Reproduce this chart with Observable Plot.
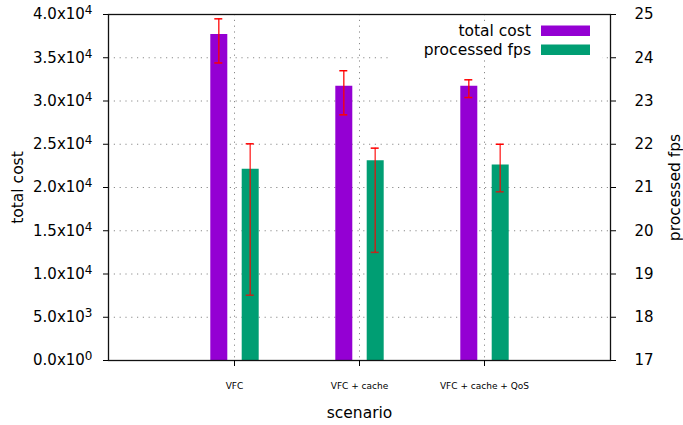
<!DOCTYPE html>
<html>
<head>
<meta charset="utf-8">
<script src="https://cdn.jsdelivr.net/npm/d3@7"></script>
<script src="https://cdn.jsdelivr.net/npm/@observablehq/plot@0.6"></script>
<style>
  html, body { margin: 0; padding: 0; background: #fff; }
  #chart { width: 683px; height: 425px; overflow: hidden; }
</style>
</head>
<body>
<div id="chart"></div>
<script>
// Scenarios compared on the x axis
const scenarios = ["VFC", "VFC + cache", "VFC + cache + QoS"];

// Total cost (left axis) with error-bar bounds
const cost     = [37700, 31700, 31700];
const costLow  = [34400, 28400, 30400];
const costHigh = [39500, 33500, 32450];

// Processed fps (right axis) with error-bar bounds
const fps      = [21.42, 21.62, 21.52];
const fpsLow   = [18.51, 19.50, 20.90];
const fpsHigh  = [22.01, 21.91, 22.00];

// Axis ranges and ticks
const costTicks = [0, 5000, 10000, 15000, 20000, 25000, 30000, 35000, 40000];
const fpsMin = 17, fpsMax = 25;
const costMax = 40000;

const seriesNames = ["total cost", "processed fps"];
const seriesColors = ["#9400D3", "#009E73"];
const errColor = "#ff0000";

// The fps series shares the plot with cost: map fps onto the cost scale
const fpsToCost = f => (f - fpsMin) * costMax / (fpsMax - fpsMin);
const costToFps = c => fpsMin + c * (fpsMax - fpsMin) / costMax;

const rows = scenarios.map((s, i) => ({
  scenario: s,
  cost: cost[i], costLow: costLow[i], costHigh: costHigh[i],
  fps: fps[i], fpsLow: fpsLow[i], fpsHigh: fpsHigh[i]
}));

// Gnuplot-like scientific labels, e.g. 3.5x10^4
function sci(v) {
  if (v === 0) return "0.0x10^0";
  const e = Math.floor(Math.log10(v));
  return (v / Math.pow(10, e)).toFixed(1) + "x10^" + e;
}

const barW = 17, off = 15.7, capHalf = 4;
const grid = { stroke: "#8a8a8a", strokeOpacity: 1, strokeDasharray: "1.2,4.6", strokeWidth: 1 };

const chart = Plot.plot({
  width: 683,
  height: 425,
  marginTop: 14,
  marginRight: 73,
  marginBottom: 65,
  marginLeft: 108,
  style: { fontFamily: "DejaVu Sans, sans-serif", fontSize: "15px", background: "#fff", color: "#000" },
  x: { type: "point", domain: scenarios, padding: 1 },
  y: { domain: [0, costMax] },
  marks: [
    Plot.gridY(costTicks, grid),
    Plot.gridX(scenarios, grid),

    // bars
    Plot.ruleX(rows, { x: "scenario", y1: 0, y2: "cost", stroke: seriesColors[0], strokeWidth: barW, dx: -off }),
    Plot.ruleX(rows, { x: "scenario", y1: 0, y2: d => fpsToCost(d.fps), stroke: seriesColors[1], strokeWidth: barW, dx: off }),

    // error bars: cost
    Plot.ruleX(rows, { x: "scenario", y1: "costLow", y2: "costHigh", stroke: errColor, strokeOpacity: 0.85, strokeWidth: 1.5, dx: -off }),
    Plot.ruleY(rows, { x1: "scenario", x2: "scenario", y: "costLow", stroke: errColor, strokeWidth: 1.5, insetLeft: -capHalf, insetRight: -capHalf, dx: -off }),
    Plot.ruleY(rows, { x1: "scenario", x2: "scenario", y: "costHigh", stroke: errColor, strokeWidth: 1.5, insetLeft: -capHalf, insetRight: -capHalf, dx: -off }),

    // error bars: fps
    Plot.ruleX(rows, { x: "scenario", y1: d => fpsToCost(d.fpsLow), y2: d => fpsToCost(d.fpsHigh), stroke: errColor, strokeOpacity: 0.75, strokeWidth: 1.5, dx: off }),
    Plot.ruleY(rows, { x1: "scenario", x2: "scenario", y: d => fpsToCost(d.fpsLow), stroke: errColor, strokeOpacity: 0.75, strokeWidth: 1.5, insetLeft: -capHalf, insetRight: -capHalf, dx: off }),
    Plot.ruleY(rows, { x1: "scenario", x2: "scenario", y: d => fpsToCost(d.fpsHigh), stroke: errColor, strokeWidth: 1.5, insetLeft: -capHalf, insetRight: -capHalf, dx: off }),

    Plot.frame({ stroke: "#111", strokeWidth: 1.3 }),

    // axes
    Plot.axisY(costTicks, { anchor: "left", tickSize: 5, tickPadding: 11, tickFormat: sci, label: null, fontSize: 15 }),
    Plot.axisY(costTicks, { anchor: "right", tickSize: 5, tickPadding: 19, tickFormat: c => String(Math.round(costToFps(c))), label: null, fontSize: 15 }),
    Plot.axisX({ tickSize: 6, tickPadding: 16, fontSize: 9, label: null }),

    // axis titles
    Plot.text(["total cost"], { text: d => d, frameAnchor: "left", dx: -86, rotate: -90, textAnchor: "middle", lineAnchor: "bottom", fontSize: 15.5 }),
    Plot.text(["processed fps"], { text: d => d, frameAnchor: "right", dx: 69, rotate: -90, textAnchor: "middle", lineAnchor: "bottom", fontSize: 15.5 }),
    Plot.text(["scenario"], { text: d => d, frameAnchor: "bottom", dy: 53, lineAnchor: "middle", fontSize: 15.5 })
  ]
});

// Raise the exponent of the scientific tick labels
chart.querySelectorAll("text").forEach(t => {
  const s = t.textContent;
  if (s.includes("^")) {
    const [base, exp] = s.split("^");
    t.textContent = base;
    const sup = document.createElementNS("http://www.w3.org/2000/svg", "tspan");
    sup.setAttribute("font-size", "12");
    sup.setAttribute("dy", "-5");
    sup.textContent = exp;
    t.appendChild(sup);
  }
});

// Key in the top-right corner of the plot area
const svg = d3.select(chart);
const frameRight = 683 - 73, frameTop = 14;
const key = svg.append("g").attr("font-family", "DejaVu Sans, sans-serif").attr("font-size", 15.5);
key.append("rect")
  .attr("x", frameRight - 218).attr("y", frameTop + 8)
  .attr("width", 210).attr("height", 37)
  .attr("fill", "#fff");
seriesNames.forEach((name, i) => {
  const cy = frameTop + 17 + i * 19;
  key.append("text")
    .attr("x", frameRight - 79).attr("y", cy)
    .attr("dy", "0.35em")
    .attr("text-anchor", "end")
    .attr("fill", "#000")
    .text(name);
  key.append("rect")
    .attr("x", frameRight - 69).attr("y", cy - 5.5)
    .attr("width", 49).attr("height", 10.5)
    .attr("fill", seriesColors[i]);
});

document.getElementById("chart").appendChild(chart);
</script>
</body>
</html>
